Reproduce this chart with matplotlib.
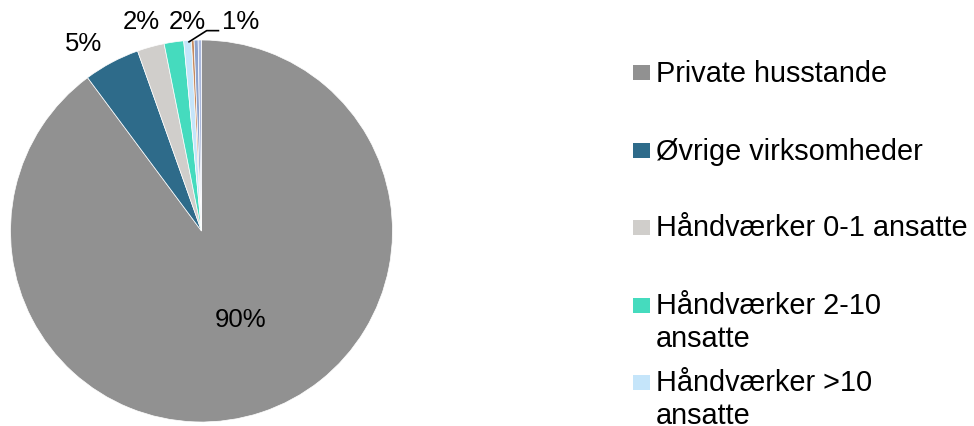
import numpy as np
import matplotlib
matplotlib.use("Agg")
import matplotlib.pyplot as plt
from matplotlib.patches import Rectangle

plt.rcParams['font.family'] = ['Liberation Sans', 'DejaVu Sans']

### shares per customer group (%), in the order they are drawn clockwise from 12 o'clock
groups = ["Private husstande", "Øvrige virksomheder", "Håndværker 0-1 ansatte",
          "Håndværker 2-10\nansatte", "Håndværker >10\nansatte",
          "Andre 1", "Andre 2", "Andre 3"]
shares = [90.0, 4.75, 2.3, 1.65, 0.65, 0.22, 0.34, 0.28]
colors = ["#919191", "#2e6b8a", "#d0cecb", "#45dbbe", "#c5e5fa",
          "#c58a5e", "#8da3cd", "#aab8dc"]
n_legend = 5  # only the first five fit in the legend box

W, H = 974, 427
fig = plt.figure(figsize=(W / 100, H / 100), dpi=100)

def px(x, y):
    return x / W, 1 - y / H

### pie axes: centre (201.5, 232), radius 191 px
cx, cy, r = 201.5, 232, 191
ax = fig.add_axes([(cx - r) / W, (H - cy - r) / H, 2 * r / W, 2 * r / H])
wedges, _ = ax.pie(shares, colors=colors, startangle=90, counterclock=False,
                   radius=1, wedgeprops=dict(edgecolor='white', linewidth=0.5))
ax.set_xlim(-1, 1)
ax.set_ylim(-1, 1)
ax.set_aspect('auto')
ax.axis('off')

### data labels (rounded shares), placed like the outside-end labels
total = sum(shares)
label_pos = [(0.203, -0.459), (-0.617, 0.983), (-0.317, 1.101),
             (-0.072, 1.101), (0.207, 1.101)]
for v, (lx, ly) in zip(shares, label_pos):
    ax.text(lx, ly, f"{v / total * 100:.0f}%", ha='center', va='center',
            fontsize=18.5, color='black', clip_on=False)

### leader line for the small >10 slice
ax.plot([-0.069, 0.027, 0.093], [0.988, 1.049, 1.049], color='black',
        linewidth=1.2, clip_on=False, solid_capstyle='butt')

### legend drawn by hand so the marker sits on the first text line
sq_x, sq_w, sq_h = 633, 17, 15
row_y = [73.2, 151.5, 228, 306, 383]
line_h = 33
for name, col, yc in zip(groups[:n_legend], colors[:n_legend], row_y):
    x0, y0 = px(sq_x, yc + sq_h / 2)
    fig.patches.append(Rectangle((x0, y0), sq_w / W, sq_h / H, facecolor=col,
                                 edgecolor='none', transform=fig.transFigure))
    for k, line in enumerate(name.split("\n")):
        tx, ty = px(656, yc + 8.5 + k * line_h)
        fig.text(tx, ty, line, ha='left', va='baseline', fontsize=20.8,
                 color='black')

fig.savefig("out.png", dpi=100)
